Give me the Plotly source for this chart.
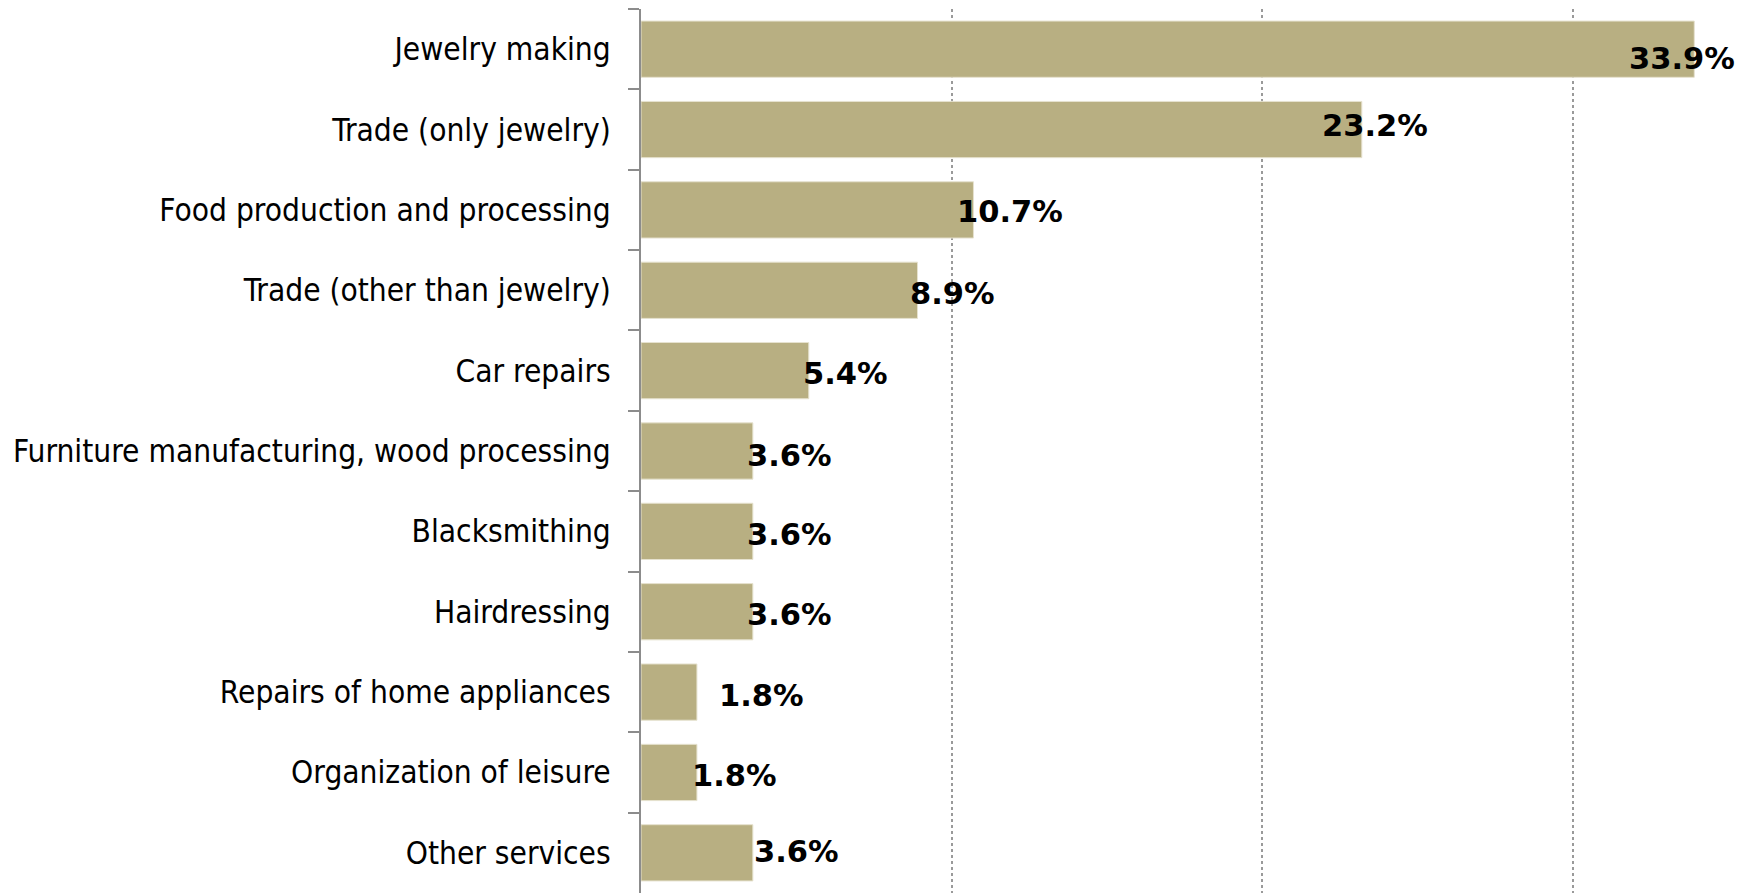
import plotly.graph_objects as go

# Share of respondents by type of business activity
categories = [
    "Jewelry making",
    "Trade (only jewelry)",
    "Food production and processing",
    "Trade (other than jewelry)",
    "Car repairs",
    "Furniture manufacturing, wood processing",
    "Blacksmithing",
    "Hairdressing",
    "Repairs of home appliances",
    "Organization of leisure",
    "Other services",
]
shares = [33.9, 23.2, 10.7, 8.9, 5.4, 3.6, 3.6, 3.6, 1.8, 1.8, 3.6]

# Fine placement of each value label (pixels relative to the bar end / bar centre)
label_dx = [-67, -42, -18, -10, -8, -8, -8, -8, 20, -7, -1]
label_dy = [9, -4.5, 1.5, 3, 2.5, 4, 3.5, 3, 3.5, 3, -1]

BAR = "#B8AF82"
CAT_FONT = "DejaVu Sans Condensed, Tahoma, DejaVu Sans, sans-serif"
VAL_FONT = "DejaVu Sans, Tahoma, sans-serif"

fig = go.Figure(
    go.Bar(
        x=shares,
        y=categories,
        orientation="h",
        marker=dict(color=BAR, line=dict(color="#E6E2CF", width=1)),
        hoverinfo="skip",
    )
)

for cat, val, dx, dy in zip(categories, shares, label_dx, label_dy):
    fig.add_annotation(
        x=val,
        y=cat,
        text=f"<b>{val:.1f}%</b>",
        showarrow=False,
        xanchor="left",
        yanchor="middle",
        xshift=dx,
        yshift=-dy,
        font=dict(family=VAL_FONT, size=30.5, color="#000000"),
    )

px_per_pct = 31.07
plot_w = 1752 - 641

fig.update_layout(
    width=1752,
    height=893,
    margin=dict(l=641, r=0, t=9, b=0),
    paper_bgcolor="white",
    plot_bgcolor="white",
    bargap=0.30,
    showlegend=False,
    font=dict(family=CAT_FONT, size=31.4, color="#000000"),
    xaxis=dict(
        range=[0, plot_w / px_per_pct],
        dtick=10,
        showticklabels=False,
        showgrid=True,
        gridcolor="#9A9A9A",
        griddash="dot",
        gridwidth=1.5,
        zeroline=False,
        showline=False,
        ticks="",
        fixedrange=True,
    ),
    yaxis=dict(
        autorange="reversed",
        showline=True,
        linecolor="#8C8C8C",
        linewidth=2,
        ticks="outside",
        tickson="boundaries",
        ticklen=11,
        tickwidth=2,
        tickcolor="#8C8C8C",
        ticklabelstandoff=22,
        showgrid=False,
        tickfont=dict(family=CAT_FONT, size=31.4, color="#000000"),
        fixedrange=True,
    ),
)

fig.write_html("out.html")
